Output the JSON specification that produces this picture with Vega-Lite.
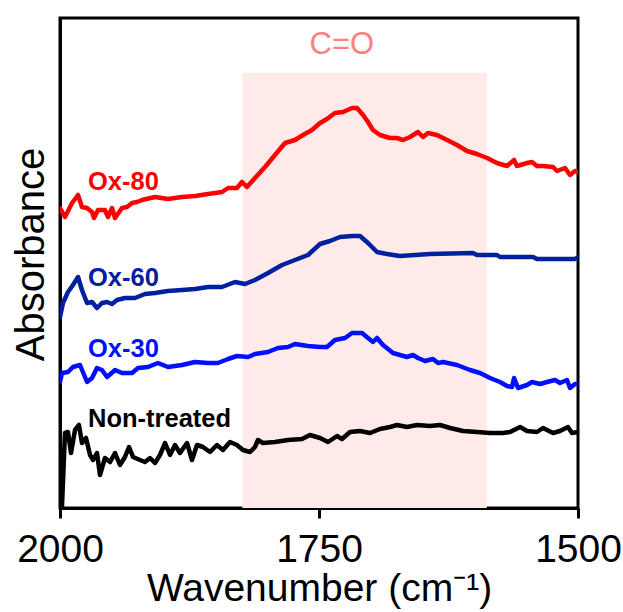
{
  "$schema": "https://vega.github.io/schema/vega-lite/v6.json",
  "width": 518,
  "height": 490,
  "autosize": {"type": "none"},
  "padding": {"left": 60, "top": 18, "right": 45, "bottom": 104},
  "config": {
    "font": "Liberation Sans",
    "view": {"stroke": "black", "strokeWidth": 3},
    "axis": {"grid": false}
  },
  "datasets": {
    "spectra": [
      {"series": "Ox-80", "w": 2000, "a": 300},
      {"series": "Ox-80", "w": 1995.2, "a": 291},
      {"series": "Ox-80", "w": 1988.4, "a": 305},
      {"series": "Ox-80", "w": 1982.6, "a": 313},
      {"series": "Ox-80", "w": 1978.8, "a": 301},
      {"series": "Ox-80", "w": 1973.9, "a": 300},
      {"series": "Ox-80", "w": 1969.1, "a": 296},
      {"series": "Ox-80", "w": 1967.2, "a": 290},
      {"series": "Ox-80", "w": 1963.3, "a": 298},
      {"series": "Ox-80", "w": 1956.6, "a": 298},
      {"series": "Ox-80", "w": 1953.7, "a": 291},
      {"series": "Ox-80", "w": 1949.8, "a": 300},
      {"series": "Ox-80", "w": 1946.9, "a": 290},
      {"series": "Ox-80", "w": 1940.2, "a": 300},
      {"series": "Ox-80", "w": 1935.3, "a": 301},
      {"series": "Ox-80", "w": 1930.5, "a": 305},
      {"series": "Ox-80", "w": 1925.7, "a": 306},
      {"series": "Ox-80", "w": 1920.8, "a": 308},
      {"series": "Ox-80", "w": 1908.3, "a": 311},
      {"series": "Ox-80", "w": 1895.8, "a": 309},
      {"series": "Ox-80", "w": 1882.2, "a": 311},
      {"series": "Ox-80", "w": 1869.7, "a": 312},
      {"series": "Ox-80", "w": 1857.1, "a": 314},
      {"series": "Ox-80", "w": 1843.6, "a": 316},
      {"series": "Ox-80", "w": 1837.8, "a": 320},
      {"series": "Ox-80", "w": 1829.2, "a": 320},
      {"series": "Ox-80", "w": 1824.3, "a": 326},
      {"series": "Ox-80", "w": 1819.5, "a": 321},
      {"series": "Ox-80", "w": 1811.8, "a": 330},
      {"series": "Ox-80", "w": 1802.1, "a": 341},
      {"series": "Ox-80", "w": 1792.5, "a": 353},
      {"series": "Ox-80", "w": 1782.8, "a": 365},
      {"series": "Ox-80", "w": 1773.2, "a": 368},
      {"series": "Ox-80", "w": 1765.4, "a": 373},
      {"series": "Ox-80", "w": 1756.8, "a": 378},
      {"series": "Ox-80", "w": 1749.0, "a": 385},
      {"series": "Ox-80", "w": 1742.3, "a": 389},
      {"series": "Ox-80", "w": 1734.6, "a": 395},
      {"series": "Ox-80", "w": 1726.8, "a": 396},
      {"series": "Ox-80", "w": 1718.1, "a": 400},
      {"series": "Ox-80", "w": 1713.3, "a": 400},
      {"series": "Ox-80", "w": 1707.5, "a": 393},
      {"series": "Ox-80", "w": 1702.7, "a": 386},
      {"series": "Ox-80", "w": 1697.9, "a": 378},
      {"series": "Ox-80", "w": 1691.1, "a": 373},
      {"series": "Ox-80", "w": 1681.5, "a": 370},
      {"series": "Ox-80", "w": 1674.7, "a": 370},
      {"series": "Ox-80", "w": 1668.9, "a": 368},
      {"series": "Ox-80", "w": 1662.2, "a": 371},
      {"series": "Ox-80", "w": 1654.4, "a": 376},
      {"series": "Ox-80", "w": 1649.6, "a": 371},
      {"series": "Ox-80", "w": 1644.8, "a": 375},
      {"series": "Ox-80", "w": 1636.1, "a": 373},
      {"series": "Ox-80", "w": 1626.4, "a": 368},
      {"series": "Ox-80", "w": 1616.8, "a": 363},
      {"series": "Ox-80", "w": 1607.1, "a": 357},
      {"series": "Ox-80", "w": 1597.5, "a": 354},
      {"series": "Ox-80", "w": 1587.8, "a": 350},
      {"series": "Ox-80", "w": 1578.2, "a": 345},
      {"series": "Ox-80", "w": 1568.5, "a": 342},
      {"series": "Ox-80", "w": 1561.7, "a": 348},
      {"series": "Ox-80", "w": 1558.9, "a": 342},
      {"series": "Ox-80", "w": 1549.2, "a": 345},
      {"series": "Ox-80", "w": 1544.4, "a": 346},
      {"series": "Ox-80", "w": 1539.6, "a": 342},
      {"series": "Ox-80", "w": 1533.8, "a": 342},
      {"series": "Ox-80", "w": 1524.1, "a": 341},
      {"series": "Ox-80", "w": 1520.3, "a": 337},
      {"series": "Ox-80", "w": 1512.5, "a": 340},
      {"series": "Ox-80", "w": 1507.7, "a": 333},
      {"series": "Ox-80", "w": 1502.9, "a": 337},
      {"series": "Ox-80", "w": 1500.0, "a": 336},

      {"series": "Ox-60", "w": 2000, "a": 191},
      {"series": "Ox-60", "w": 1997.1, "a": 205},
      {"series": "Ox-60", "w": 1992.3, "a": 216},
      {"series": "Ox-60", "w": 1987.5, "a": 223},
      {"series": "Ox-60", "w": 1982.6, "a": 231},
      {"series": "Ox-60", "w": 1978.8, "a": 218},
      {"series": "Ox-60", "w": 1973.9, "a": 205},
      {"series": "Ox-60", "w": 1969.1, "a": 206},
      {"series": "Ox-60", "w": 1964.3, "a": 200},
      {"series": "Ox-60", "w": 1959.5, "a": 205},
      {"series": "Ox-60", "w": 1954.6, "a": 206},
      {"series": "Ox-60", "w": 1949.8, "a": 204},
      {"series": "Ox-60", "w": 1945.0, "a": 208},
      {"series": "Ox-60", "w": 1937.3, "a": 210},
      {"series": "Ox-60", "w": 1927.6, "a": 210},
      {"series": "Ox-60", "w": 1918.0, "a": 214},
      {"series": "Ox-60", "w": 1908.3, "a": 215},
      {"series": "Ox-60", "w": 1895.8, "a": 217},
      {"series": "Ox-60", "w": 1882.2, "a": 218},
      {"series": "Ox-60", "w": 1869.7, "a": 219},
      {"series": "Ox-60", "w": 1857.1, "a": 221},
      {"series": "Ox-60", "w": 1843.6, "a": 221},
      {"series": "Ox-60", "w": 1831.1, "a": 226},
      {"series": "Ox-60", "w": 1821.4, "a": 224},
      {"series": "Ox-60", "w": 1811.8, "a": 228},
      {"series": "Ox-60", "w": 1799.2, "a": 235},
      {"series": "Ox-60", "w": 1785.7, "a": 243},
      {"series": "Ox-60", "w": 1773.2, "a": 248},
      {"series": "Ox-60", "w": 1760.6, "a": 253},
      {"series": "Ox-60", "w": 1749.0, "a": 264},
      {"series": "Ox-60", "w": 1739.4, "a": 267},
      {"series": "Ox-60", "w": 1729.7, "a": 271},
      {"series": "Ox-60", "w": 1718.1, "a": 272},
      {"series": "Ox-60", "w": 1710.4, "a": 272},
      {"series": "Ox-60", "w": 1702.7, "a": 265},
      {"series": "Ox-60", "w": 1694.0, "a": 256},
      {"series": "Ox-60", "w": 1684.4, "a": 254},
      {"series": "Ox-60", "w": 1671.8, "a": 252},
      {"series": "Ox-60", "w": 1642.9, "a": 254},
      {"series": "Ox-60", "w": 1601.4, "a": 255},
      {"series": "Ox-60", "w": 1597.5, "a": 253},
      {"series": "Ox-60", "w": 1578.2, "a": 253},
      {"series": "Ox-60", "w": 1575.3, "a": 251},
      {"series": "Ox-60", "w": 1543.4, "a": 251},
      {"series": "Ox-60", "w": 1539.6, "a": 249},
      {"series": "Ox-60", "w": 1502.9, "a": 249},
      {"series": "Ox-60", "w": 1500.0, "a": 251},

      {"series": "Ox-30", "w": 2000, "a": 126},
      {"series": "Ox-30", "w": 1998.1, "a": 135},
      {"series": "Ox-30", "w": 1992.3, "a": 136},
      {"series": "Ox-30", "w": 1987.5, "a": 141},
      {"series": "Ox-30", "w": 1980.7, "a": 143},
      {"series": "Ox-30", "w": 1973.9, "a": 126},
      {"series": "Ox-30", "w": 1969.1, "a": 130},
      {"series": "Ox-30", "w": 1964.3, "a": 140},
      {"series": "Ox-30", "w": 1959.5, "a": 138},
      {"series": "Ox-30", "w": 1954.6, "a": 131},
      {"series": "Ox-30", "w": 1946.9, "a": 138},
      {"series": "Ox-30", "w": 1940.2, "a": 135},
      {"series": "Ox-30", "w": 1930.5, "a": 135},
      {"series": "Ox-30", "w": 1924.7, "a": 140},
      {"series": "Ox-30", "w": 1915.1, "a": 141},
      {"series": "Ox-30", "w": 1905.4, "a": 145},
      {"series": "Ox-30", "w": 1895.8, "a": 141},
      {"series": "Ox-30", "w": 1882.2, "a": 143},
      {"series": "Ox-30", "w": 1869.7, "a": 146},
      {"series": "Ox-30", "w": 1857.1, "a": 145},
      {"series": "Ox-30", "w": 1847.5, "a": 145},
      {"series": "Ox-30", "w": 1837.8, "a": 149},
      {"series": "Ox-30", "w": 1829.2, "a": 152},
      {"series": "Ox-30", "w": 1818.5, "a": 151},
      {"series": "Ox-30", "w": 1811.8, "a": 154},
      {"series": "Ox-30", "w": 1799.2, "a": 156},
      {"series": "Ox-30", "w": 1789.6, "a": 160},
      {"series": "Ox-30", "w": 1779.9, "a": 161},
      {"series": "Ox-30", "w": 1773.2, "a": 164},
      {"series": "Ox-30", "w": 1760.6, "a": 162},
      {"series": "Ox-30", "w": 1749.0, "a": 161},
      {"series": "Ox-30", "w": 1742.3, "a": 161},
      {"series": "Ox-30", "w": 1734.6, "a": 168},
      {"series": "Ox-30", "w": 1724.9, "a": 170},
      {"series": "Ox-30", "w": 1718.1, "a": 175},
      {"series": "Ox-30", "w": 1708.5, "a": 175},
      {"series": "Ox-30", "w": 1702.7, "a": 170},
      {"series": "Ox-30", "w": 1697.9, "a": 166},
      {"series": "Ox-30", "w": 1694.0, "a": 170},
      {"series": "Ox-30", "w": 1688.2, "a": 163},
      {"series": "Ox-30", "w": 1678.6, "a": 155},
      {"series": "Ox-30", "w": 1665.1, "a": 151},
      {"series": "Ox-30", "w": 1659.3, "a": 153},
      {"series": "Ox-30", "w": 1654.4, "a": 150},
      {"series": "Ox-30", "w": 1647.7, "a": 147},
      {"series": "Ox-30", "w": 1640.0, "a": 149},
      {"series": "Ox-30", "w": 1635.1, "a": 145},
      {"series": "Ox-30", "w": 1630.3, "a": 146},
      {"series": "Ox-30", "w": 1616.8, "a": 143},
      {"series": "Ox-30", "w": 1604.2, "a": 138},
      {"series": "Ox-30", "w": 1594.6, "a": 135},
      {"series": "Ox-30", "w": 1584.9, "a": 130},
      {"series": "Ox-30", "w": 1575.3, "a": 126},
      {"series": "Ox-30", "w": 1568.5, "a": 122},
      {"series": "Ox-30", "w": 1563.7, "a": 121},
      {"series": "Ox-30", "w": 1561.7, "a": 130},
      {"series": "Ox-30", "w": 1557.9, "a": 120},
      {"series": "Ox-30", "w": 1549.2, "a": 123},
      {"series": "Ox-30", "w": 1544.4, "a": 126},
      {"series": "Ox-30", "w": 1536.7, "a": 124},
      {"series": "Ox-30", "w": 1529.9, "a": 126},
      {"series": "Ox-30", "w": 1522.2, "a": 128},
      {"series": "Ox-30", "w": 1517.4, "a": 125},
      {"series": "Ox-30", "w": 1510.6, "a": 128},
      {"series": "Ox-30", "w": 1507.7, "a": 120},
      {"series": "Ox-30", "w": 1502.9, "a": 124},
      {"series": "Ox-30", "w": 1500.0, "a": 124},

      {"series": "Non-treated", "w": 1998.1, "a": 1},
      {"series": "Non-treated", "w": 1995.2, "a": 75},
      {"series": "Non-treated", "w": 1992.3, "a": 76},
      {"series": "Non-treated", "w": 1989.4, "a": 55},
      {"series": "Non-treated", "w": 1985.5, "a": 78},
      {"series": "Non-treated", "w": 1981.7, "a": 83},
      {"series": "Non-treated", "w": 1978.8, "a": 65},
      {"series": "Non-treated", "w": 1974.9, "a": 70},
      {"series": "Non-treated", "w": 1971.0, "a": 53},
      {"series": "Non-treated", "w": 1968.1, "a": 48},
      {"series": "Non-treated", "w": 1964.3, "a": 55},
      {"series": "Non-treated", "w": 1961.4, "a": 33},
      {"series": "Non-treated", "w": 1956.6, "a": 50},
      {"series": "Non-treated", "w": 1951.7, "a": 46},
      {"series": "Non-treated", "w": 1946.9, "a": 55},
      {"series": "Non-treated", "w": 1942.1, "a": 43},
      {"series": "Non-treated", "w": 1937.3, "a": 51},
      {"series": "Non-treated", "w": 1933.4, "a": 61},
      {"series": "Non-treated", "w": 1929.5, "a": 51},
      {"series": "Non-treated", "w": 1922.8, "a": 48},
      {"series": "Non-treated", "w": 1918.0, "a": 46},
      {"series": "Non-treated", "w": 1913.1, "a": 50},
      {"series": "Non-treated", "w": 1908.3, "a": 45},
      {"series": "Non-treated", "w": 1903.5, "a": 53},
      {"series": "Non-treated", "w": 1898.6, "a": 65},
      {"series": "Non-treated", "w": 1893.8, "a": 53},
      {"series": "Non-treated", "w": 1889.0, "a": 63},
      {"series": "Non-treated", "w": 1884.2, "a": 55},
      {"series": "Non-treated", "w": 1877.4, "a": 65},
      {"series": "Non-treated", "w": 1872.6, "a": 48},
      {"series": "Non-treated", "w": 1867.8, "a": 63},
      {"series": "Non-treated", "w": 1862.0, "a": 61},
      {"series": "Non-treated", "w": 1855.2, "a": 56},
      {"series": "Non-treated", "w": 1848.5, "a": 63},
      {"series": "Non-treated", "w": 1842.7, "a": 58},
      {"series": "Non-treated", "w": 1835.9, "a": 66},
      {"series": "Non-treated", "w": 1829.2, "a": 63},
      {"series": "Non-treated", "w": 1823.4, "a": 58},
      {"series": "Non-treated", "w": 1816.6, "a": 56},
      {"series": "Non-treated", "w": 1811.8, "a": 61},
      {"series": "Non-treated", "w": 1808.9, "a": 68},
      {"series": "Non-treated", "w": 1804.1, "a": 65},
      {"series": "Non-treated", "w": 1792.5, "a": 66},
      {"series": "Non-treated", "w": 1779.9, "a": 68},
      {"series": "Non-treated", "w": 1766.4, "a": 69},
      {"series": "Non-treated", "w": 1758.7, "a": 73},
      {"series": "Non-treated", "w": 1749.0, "a": 70},
      {"series": "Non-treated", "w": 1741.3, "a": 66},
      {"series": "Non-treated", "w": 1732.6, "a": 72},
      {"series": "Non-treated", "w": 1727.8, "a": 69},
      {"series": "Non-treated", "w": 1720.1, "a": 76},
      {"series": "Non-treated", "w": 1710.4, "a": 77},
      {"series": "Non-treated", "w": 1700.8, "a": 75},
      {"series": "Non-treated", "w": 1691.1, "a": 79},
      {"series": "Non-treated", "w": 1681.5, "a": 81},
      {"series": "Non-treated", "w": 1674.7, "a": 83},
      {"series": "Non-treated", "w": 1665.1, "a": 81},
      {"series": "Non-treated", "w": 1655.4, "a": 83},
      {"series": "Non-treated", "w": 1642.9, "a": 82},
      {"series": "Non-treated", "w": 1633.2, "a": 83},
      {"series": "Non-treated", "w": 1623.5, "a": 80},
      {"series": "Non-treated", "w": 1611.0, "a": 77},
      {"series": "Non-treated", "w": 1597.5, "a": 76},
      {"series": "Non-treated", "w": 1584.9, "a": 75},
      {"series": "Non-treated", "w": 1572.4, "a": 75},
      {"series": "Non-treated", "w": 1565.6, "a": 76},
      {"series": "Non-treated", "w": 1555.9, "a": 81},
      {"series": "Non-treated", "w": 1549.2, "a": 77},
      {"series": "Non-treated", "w": 1539.6, "a": 76},
      {"series": "Non-treated", "w": 1533.8, "a": 80},
      {"series": "Non-treated", "w": 1524.1, "a": 75},
      {"series": "Non-treated", "w": 1517.4, "a": 77},
      {"series": "Non-treated", "w": 1509.7, "a": 81},
      {"series": "Non-treated", "w": 1505.8, "a": 75},
      {"series": "Non-treated", "w": 1500.0, "a": 76}
    ],
    "labels": [
      {"series": "Ox-80", "w": 1973, "a": 326},
      {"series": "Ox-60", "w": 1973, "a": 230},
      {"series": "Ox-30", "w": 1973, "a": 159},
      {"series": "Non-treated", "w": 1973, "a": 89}
    ],
    "band": [
      {"w1": 1824, "w2": 1588, "a1": 0, "a2": 435}
    ],
    "note": [
      {"text": "C=O", "w": 1728, "a": 463}
    ]
  },
  "layer": [
    {
      "data": {"name": "band"},
      "mark": {"type": "rect", "color": "#FFEAEA"},
      "encoding": {
        "x": {"field": "w1", "type": "quantitative",
          "scale": {"domain": [1500, 2000], "reverse": true, "nice": false, "zero": false},
          "axis": {
            "values": [2000, 1750, 1500],
            "format": "d",
            "title": "Wavenumber (cm⁻¹)",
            "labelFontSize": 39,
            "labelColor": "black",
            "labelPadding": 12,
            "titleFontSize": 39,
            "titleFontWeight": "normal",
            "titleColor": "black",
            "titlePadding": 0,
            "tickSize": 10,
            "tickWidth": 3,
            "tickColor": "black",
            "domainColor": "black",
            "domainWidth": 3,
            "labelFlush": false
          }
        },
        "x2": {"field": "w2"},
        "y": {"field": "a1", "type": "quantitative",
          "scale": {"domain": [0, 490], "nice": false, "zero": false},
          "axis": {
            "title": "Absorbance",
            "labels": false,
            "ticks": false,
            "titleFontSize": 40,
            "titleFontWeight": "normal",
            "titleColor": "black",
            "titlePadding": 9,
            "titleY": 236,
            "domainColor": "black",
            "domainWidth": 3
          }
        },
        "y2": {"field": "a2"}
      }
    },
    {
      "data": {"name": "note"},
      "mark": {"type": "text", "color": "#FF8080", "fontSize": 31, "align": "center", "baseline": "middle"},
      "encoding": {
        "x": {"field": "w", "type": "quantitative"},
        "y": {"field": "a", "type": "quantitative"},
        "text": {"field": "text"}
      }
    },
    {
      "data": {"name": "spectra"},
      "mark": {"type": "line", "strokeJoin": "round", "strokeCap": "round", "clip": true},
      "encoding": {
        "x": {"field": "w", "type": "quantitative"},
        "y": {"field": "a", "type": "quantitative"},
        "detail": {"field": "series"},
        "color": {"field": "series", "type": "nominal",
          "scale": {"domain": ["Ox-80", "Ox-60", "Ox-30", "Non-treated"], "range": ["#FF0000", "#00209F", "#0010FF", "#000000"]},
          "legend": null},
        "strokeWidth": {"field": "series", "type": "nominal",
          "scale": {"domain": ["Ox-80", "Ox-60", "Ox-30", "Non-treated"], "range": [4.5, 4.5, 4.5, 3.5]},
          "legend": null}
      }
    },
    {
      "data": {"name": "labels"},
      "mark": {"type": "text", "fontSize": 25.5, "fontWeight": "bold", "align": "left", "baseline": "middle"},
      "encoding": {
        "x": {"field": "w", "type": "quantitative"},
        "y": {"field": "a", "type": "quantitative"},
        "text": {"field": "series"},
        "color": {"field": "series", "type": "nominal", "legend": null}
      }
    }
  ]
}
